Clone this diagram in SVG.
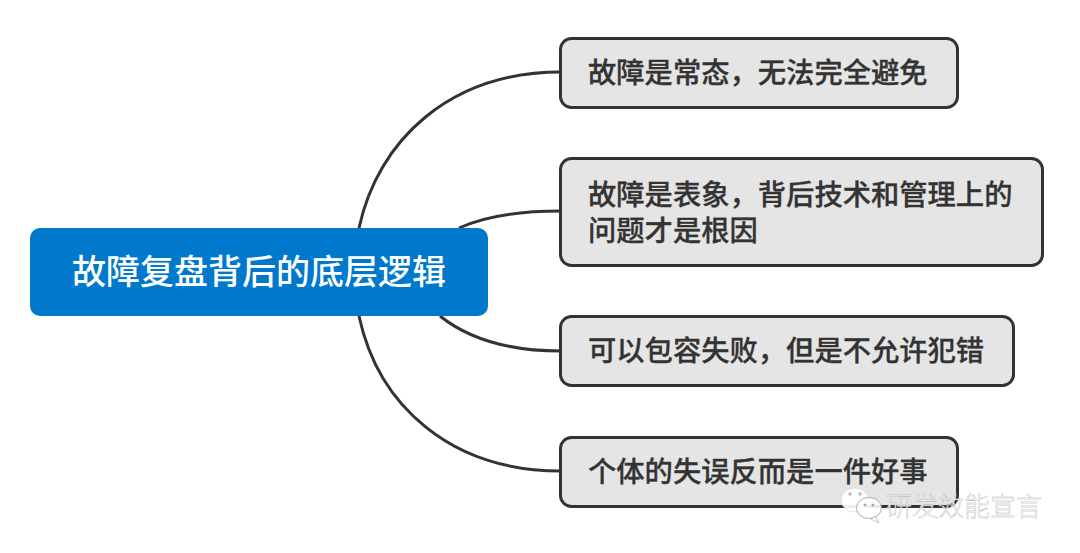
<svg xmlns="http://www.w3.org/2000/svg" width="1080" height="553" viewBox="0 0 1080 553">
<style>
text{font-family:"Noto Sans CJK SC","Liberation Sans",sans-serif}
.c{fill:none;stroke:#333;stroke-width:3}
.n rect{fill:#e5e5e5;stroke:#333;stroke-width:3}
.n text{font-size:28.3px;font-weight:500;fill:#333;stroke:#333;stroke-width:.3}
.wm{font-size:26px;font-weight:300;fill:#fff;fill-opacity:.9;stroke:#aaa;stroke-width:.35}
</style>
<rect width="1080" height="553" fill="#fff"/>
<g id="connectors">
<path class="c" d="M359 228C378 140 450 72 561 72"/>
<path class="c" d="M459 228C485 216 520 211 561 211"/>
<path class="c" d="M440 316C470 340 510 351 561 351"/>
<path class="c" d="M359 316C378 405 450 471 561 471"/>
</g>
<g id="root">
<rect x="30" y="228" width="458" height="88" rx="10" fill="#0079cc"/>
<text x="72" y="284" font-size="34" font-weight="500" fill="#fff">故障复盘背后的底层逻辑</text>
</g>
<g id="n1" class="n">
<rect x="560.500" y="38.500" width="397" height="69" rx="11"/>
<text x="588" y="83">故障是常态&#65292;无法完全避免</text>
</g>
<g id="n2" class="n">
<rect x="560.500" y="158.500" width="482" height="107" rx="11"/>
<text x="588" y="205">故障是表象&#65292;背后技术和管理上的<tspan x="588" y="241">问题才是根因</tspan></text>
</g>
<g id="n3" class="n">
<rect x="560.500" y="316.500" width="453" height="69" rx="11"/>
<text x="588" y="361">可以包容失败&#65292;但是不允许犯错</text>
</g>
<g id="n4" class="n">
<rect x="560.500" y="437.500" width="397" height="69" rx="11"/>
<text x="588" y="482">个体的失误反而是一件好事</text>
</g>
<g id="watermark">
<ellipse cx="855" cy="500" rx="14" ry="12" fill="#fff" fill-opacity=".9" stroke="#ccc" stroke-width=".6"/>
<path d="M846 509l-2 6 7-3z" fill="#fff" fill-opacity=".9"/>
<circle cx="850" cy="494" r="1.700" fill="#bbb"/>
<circle cx="860" cy="494" r="1.700" fill="#bbb"/>
<ellipse cx="869" cy="508" rx="12.500" ry="10.500" fill="#fff" fill-opacity=".9" stroke="#999" stroke-width=".8"/>
<path d="M875 516l4 7-8-4z" fill="#fff" stroke="#999" stroke-width=".6"/>
<circle cx="865" cy="505" r="1.500" fill="#aaa"/>
<circle cx="873" cy="505" r="1.500" fill="#aaa"/>
<text class="wm" x="886" y="516">研发效能宣言</text>
</g>
</svg>
